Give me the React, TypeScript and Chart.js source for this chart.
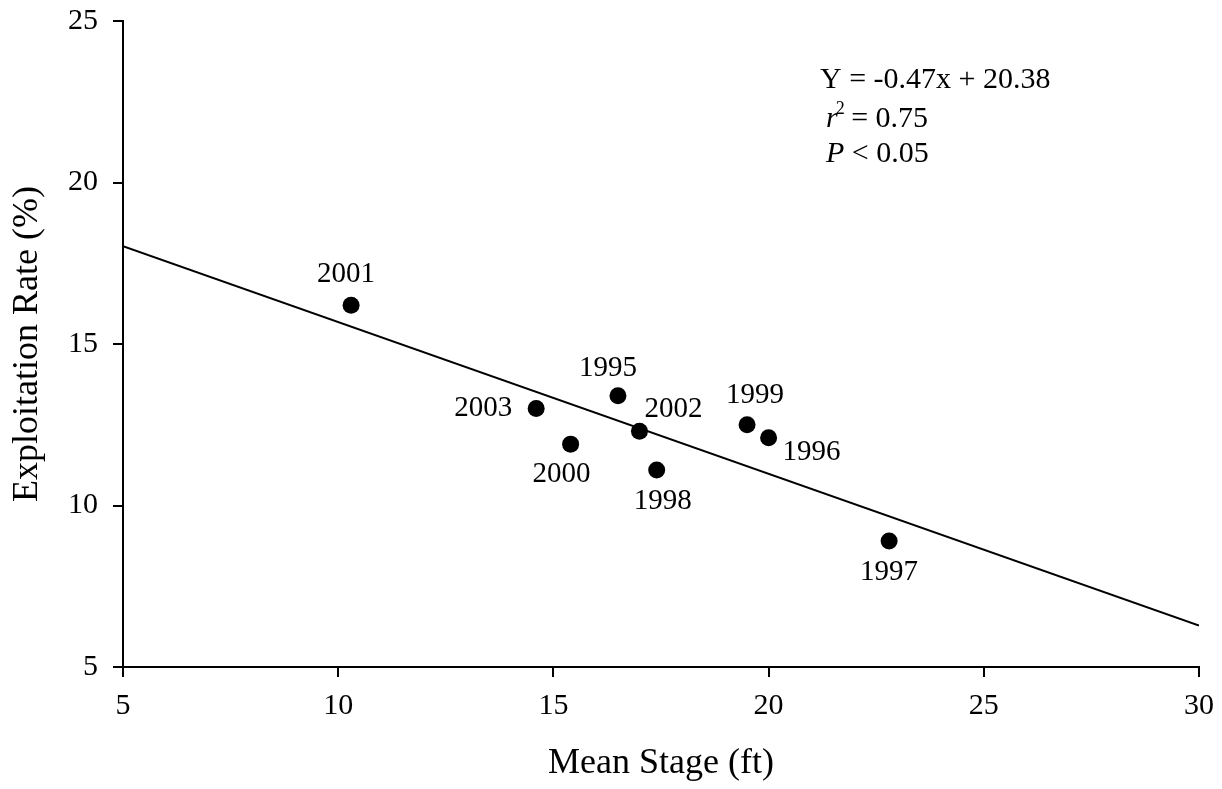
import React, { useEffect, useRef } from "react";
import { Chart, registerables } from "chart.js";

Chart.register(...registerables);

// Observations by season
const years = ["1995", "1996", "1997", "1998", "1999", "2000", "2001", "2002", "2003"];
const meanStage = [16.5, 20.0, 22.8, 17.4, 19.5, 15.4, 10.3, 17.0, 14.6];
const exploitationRate = [13.4, 12.1, 8.9, 11.1, 12.5, 11.9, 16.2, 12.3, 13.0];

// Fitted regression
const slope = -0.47;
const intercept = 20.38;
const rSquared = 0.75;
const pValueText = "< 0.05";

// Axis ranges and ticks
const xRange = [5, 30];
const yRange = [5, 25];
const tickStep = 5;

// Year label placement relative to each point (px)
const labelOffsets: [number, number][] = [
  [-10, -27], // 1995
  [43, 15], // 1996
  [0, 31], // 1997
  [6, 31], // 1998
  [8, -29], // 1999
  [-9, 30], // 2000
  [-5, -31], // 2001
  [34, -22], // 2002
  [-53, 0], // 2003
];

const SERIF = "'Liberation Serif', 'Times New Roman', Times, serif";

const yearLabelsPlugin = {
  id: "yearLabels",
  afterDatasetsDraw(chart: any) {
    const { ctx, scales } = chart;
    ctx.save();
    ctx.fillStyle = "#000";
    ctx.font = `29px ${SERIF}`;
    ctx.textAlign = "center";
    ctx.textBaseline = "middle";
    years.forEach((yr, i) => {
      const px = scales.x.getPixelForValue(meanStage[i]);
      const py = scales.y.getPixelForValue(exploitationRate[i]);
      const [dx, dy] = labelOffsets[i];
      ctx.fillText(yr, px + dx, py + dy);
    });
    ctx.restore();
  },
};

const equationPlugin = {
  id: "equation",
  afterDraw(chart: any) {
    const { ctx } = chart;
    ctx.save();
    ctx.fillStyle = "#000";
    ctx.textAlign = "left";
    ctx.textBaseline = "alphabetic";

    const sign = intercept >= 0 ? "+" : "-";
    ctx.font = `30px ${SERIF}`;
    ctx.fillText(`Y = ${slope.toFixed(2)}x ${sign} ${Math.abs(intercept).toFixed(2)}`, 820, 88);

    // r² line
    let x = 826;
    const y2 = 127;
    ctx.font = `italic 30px ${SERIF}`;
    ctx.fillText("r", x, y2);
    x += ctx.measureText("r").width - 2;
    ctx.font = `18px ${SERIF}`;
    ctx.fillText("2", x, y2 - 13);
    x += ctx.measureText("2").width - 1;
    ctx.font = `30px ${SERIF}`;
    ctx.fillText(` = ${rSquared.toFixed(2)}`, x, y2);

    // P line
    x = 826;
    const y3 = 162;
    ctx.font = `italic 30px ${SERIF}`;
    ctx.fillText("P", x, y3);
    x += ctx.measureText("P").width;
    ctx.font = `30px ${SERIF}`;
    ctx.fillText(` ${pValueText}`, x, y3);
    ctx.restore();
  },
};

const clearScalePadding = (scale: any) => {
  scale.paddingTop = 0;
  scale.paddingBottom = 0;
  scale.paddingLeft = 0;
  scale.paddingRight = 0;
};

export default function App() {
  const canvasRef = useRef<HTMLCanvasElement | null>(null);

  useEffect(() => {
    if (!canvasRef.current) return;
    const points = meanStage.map((x, i) => ({ x, y: exploitationRate[i] }));
    const fitLine = xRange.map((x) => ({ x, y: slope * x + intercept }));

    const chart = new Chart(canvasRef.current, {
      type: "scatter",
      data: {
        datasets: [
          {
            type: "line",
            label: "Fit",
            data: fitLine,
            borderColor: "#000",
            borderWidth: 2,
            pointRadius: 0,
            fill: false,
            showLine: true,
            order: 2,
          } as any,
          {
            label: "Exploitation rate",
            data: points,
            backgroundColor: "#000",
            borderColor: "#000",
            borderWidth: 0,
            pointRadius: 8.5,
            pointHoverRadius: 8.5,
            order: 1,
          },
        ],
      },
      options: {
        responsive: false,
        animation: false,
        devicePixelRatio: 1,
        layout: { padding: { top: 21, right: 23, left: 0, bottom: 0 } },
        plugins: {
          legend: { display: false },
          tooltip: { enabled: false },
        },
        scales: {
          x: {
            type: "linear",
            min: xRange[0],
            max: xRange[1],
            afterFit: (scale: any) => {
              scale.height = 122;
              clearScalePadding(scale);
            },
            ticks: {
              stepSize: tickStep,
              color: "#000",
              padding: 11,
              font: { family: SERIF, size: 30 },
            },
            grid: {
              display: true,
              drawOnChartArea: false,
              drawTicks: true,
              tickLength: 10,
              color: "#000",
              lineWidth: 2,
            },
            border: { display: true, color: "#000", width: 2 },
            title: {
              display: true,
              text: "Mean Stage (ft)",
              color: "#000",
              font: { family: SERIF, size: 36 },
              padding: { top: 0, bottom: 4 },
            },
          },
          y: {
            type: "linear",
            min: yRange[0],
            max: yRange[1],
            afterFit: (scale: any) => {
              scale.width = 123;
              clearScalePadding(scale);
            },
            ticks: {
              stepSize: tickStep,
              color: "#000",
              padding: 15,
              font: { family: SERIF, size: 30 },
            },
            grid: {
              display: true,
              drawOnChartArea: false,
              drawTicks: true,
              tickLength: 10,
              color: "#000",
              lineWidth: 2,
            },
            border: { display: true, color: "#000", width: 2 },
            title: {
              display: true,
              text: "Exploitation Rate (%)",
              color: "#000",
              font: { family: SERIF, size: 36 },
              padding: { top: 6, bottom: 0 },
            },
          },
        },
      },
      plugins: [yearLabelsPlugin, equationPlugin],
    });

    return () => chart.destroy();
  }, []);

  return (
    <div style={{ position: "absolute", left: 0, top: 0, width: 1222, height: 789, background: "#fff" }}>
      <canvas ref={canvasRef} width={1222} height={789} style={{ width: 1222, height: 789, display: "block" }} />
    </div>
  );
}
